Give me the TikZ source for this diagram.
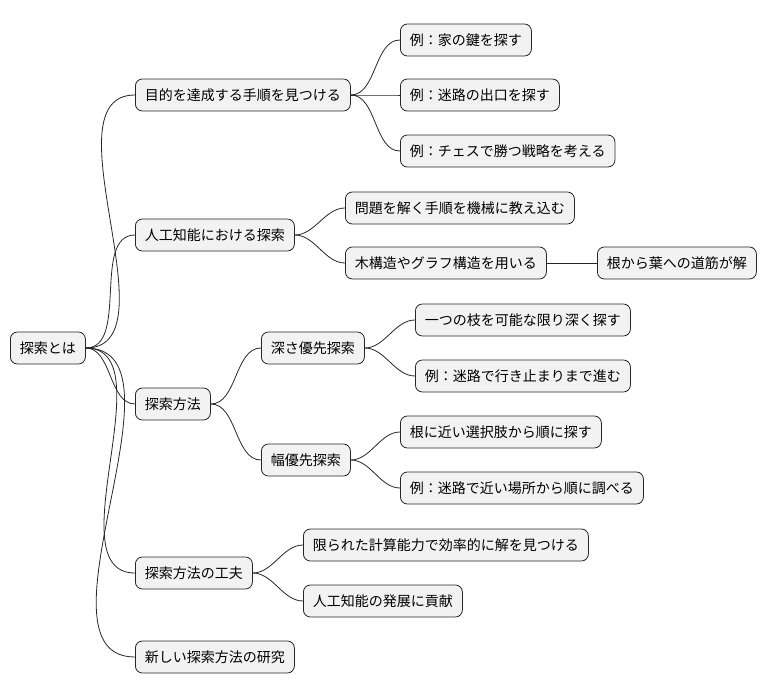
\documentclass[tikz,border=0pt]{standalone}
\usepackage{fontspec}
\setmainfont{Noto Sans CJK JP}
\begin{document}
\begin{tikzpicture}[x=1pt,y=-1pt,
  box/.style={draw=black!85,fill=black!5,rounded corners=7pt,line width=0.8pt,anchor=west,minimum height=32pt,inner xsep=9.5pt,font=\fontsize{14}{16}\selectfont},
  con/.style={draw=black!85,line width=0.8pt}]
\useasboundingbox (0,0) rectangle (768,696);
\node[box] (r) at (10,348) {探索とは};
\node[box] (a) at (135,95) {目的を達成する手順を見つける};
\node[box] (a1) at (400,40) {例：家の鍵を探す};
\node[box] (a2) at (400,95) {例：迷路の出口を探す};
\node[box] (a3) at (400,151) {例：チェスで勝つ戦略を考える};
\node[box] (b) at (135,235) {人工知能における探索};
\node[box] (b1) at (345,208) {問題を解く手順を機械に教え込む};
\node[box] (b2) at (345,263) {木構造やグラフ構造を用いる};
\node[box] (b3) at (597,263) {根から葉への道筋が解};
\node[box] (c) at (135,404) {探索方法};
\node[box] (c1) at (261,348) {深さ優先探索};
\node[box] (c11) at (415,320) {一つの枝を可能な限り深く探す};
\node[box] (c12) at (415,376) {例：迷路で行き止まりまで進む};
\node[box] (c2) at (261,460) {幅優先探索};
\node[box] (c21) at (400,432) {根に近い選択肢から順に探す};
\node[box] (c22) at (400,488) {例：迷路で近い場所から順に調べる};
\node[box] (d) at (135,573) {探索方法の工夫};
\node[box] (d1) at (303,545) {限られた計算能力で効率的に解を見つける};
\node[box] (d2) at (303,601) {人工知能の発展に貢献};
\node[box] (e) at (135,657) {新しい探索方法の研究};
\foreach \p/\c in {r/a,r/b,r/c,r/d,r/e,a/a1,a/a2,a/a3,b/b1,b/b2,c/c1,c/c2,c1/c11,c1/c12,c2/c21,c2/c22,d/d1,d/d2}
  \draw[con] (\p.east) to[out=0,in=180,looseness=0.9] (\c.west);
\draw[con] (b2.east) -- (b3.west);
\end{tikzpicture}
\end{document}
